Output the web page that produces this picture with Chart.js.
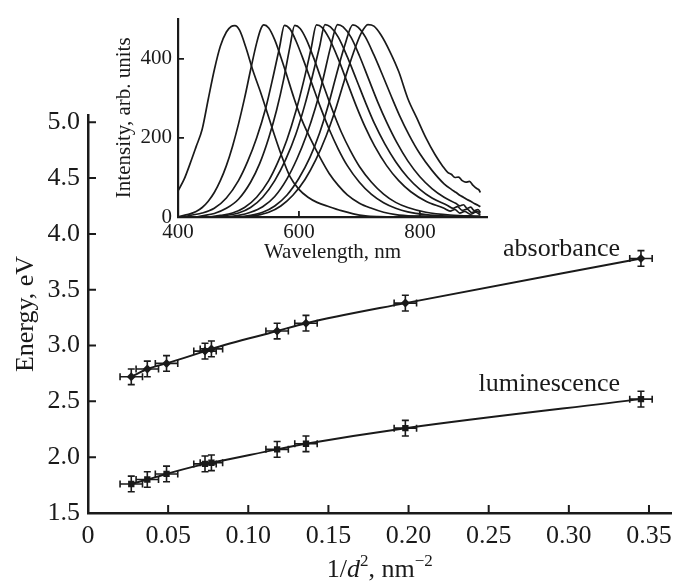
<!DOCTYPE html>
<html>
<head>
<meta charset="utf-8">
<script src="https://cdn.jsdelivr.net/npm/chart.js@4.4.1/dist/chart.umd.min.js"></script>
<style>
  html, body { margin: 0; padding: 0; background: #fff; }
  #wrap { position: relative; width: 680px; height: 583px; }
  #main { position: absolute; left: 0; top: 0; }
  #inset { position: absolute; left: 100px; top: 0; }
</style>
</head>
<body>
<div id="wrap">
  <canvas id="main" width="680" height="583"></canvas>
  <canvas id="inset" width="410" height="265"></canvas>
</div>
<script>
// size dependence of band energies
const invD2 = [0.027, 0.037, 0.049, 0.073, 0.077, 0.118, 0.136, 0.198, 0.345];
const absorbance = [2.72, 2.79, 2.84, 2.95, 2.97, 3.13, 3.20, 3.38, 3.78];
const luminescence = [1.76, 1.80, 1.85, 1.94, 1.95, 2.07, 2.12, 2.26, 2.52];
const invD2Err = [0.007, 0.007, 0.007, 0.007, 0.007, 0.007, 0.007, 0.007, 0.007];
const energyErr = [0.07, 0.07, 0.07, 0.07, 0.07, 0.07, 0.07, 0.07, 0.07];
const seriesNames = ['absorbance', 'luminescence'];
const xTicks = [0, 0.05, 0.10, 0.15, 0.20, 0.25, 0.30, 0.35];
const yTicks = [1.5, 2.0, 2.5, 3.0, 3.5, 4.0, 4.5, 5.0];

// luminescence spectra [wavelength nm, intensity]
const spec494 = [[400,66],[410,95],[420,135],[430,178],[440,222],[450,298],[460,372],[470,432],[480,468],[488,482],[494,484],[502,472],[512,430],[524,370],[536,318],[548,262],[560,205],[572,152],[585,103],[600,70],[615,50],[630,37],[650,26],[670,16],[690,8],[710,3],[730,1],[760,0],[800,2],[850,0],[900,1]];
const spec542 = [[400,0],[410,4],[420,8],[430,14],[440,24],[450,40],[460,62],[470,92],[480,130],[490,178],[500,235],[510,300],[520,372],[530,440],[537,476],[542,486],[550,478],[560,448],[570,405],[580,358],[592,300],[605,245],[620,195],[635,150],[650,110],[665,80],[680,56],[700,35],[720,22],[740,12],[760,6],[790,2],[830,0],[900,0]];
const spec576 = [[410,0],[420,4],[440,10],[460,22],[480,48],[500,92],[515,140],[530,200],[545,275],[558,360],[568,430],[576,485],[585,476],[595,446],[608,395],[622,335],[636,276],[650,222],[665,172],[680,130],[700,88],[720,57],[740,36],[760,22],[780,13],[810,6],[850,2],[900,0]];
const spec593 = [[430,0],[440,3],[460,9],[480,22],[500,45],[520,88],[535,135],[550,200],[563,270],[575,350],[585,430],[593,485],[602,477],[612,450],[625,400],[640,335],[655,272],[670,215],[685,168],[700,128],[720,88],[740,58],[760,37],[780,24],[810,12],[850,5],[900,2]];
const spec629 = [[450,0],[470,4],[490,10],[510,24],[530,50],[550,92],[565,138],[580,195],[595,268],[608,345],[620,425],[629,486],[638,480],[650,452],[665,400],[680,340],[695,280],[710,226],[725,180],[745,130],[765,92],[785,64],[810,40],[840,22],[850,15],[858,19],[866,10],[874,14],[884,7],[892,12],[900,5]];
const spec643 = [[460,0],[480,4],[500,10],[520,24],[540,50],[560,92],[578,145],[595,210],[610,285],[622,355],[634,430],[643,487],[652,481],[665,455],[680,405],[695,348],[710,290],[725,236],[742,185],[760,140],[780,100],[800,70],[820,48],[845,30],[855,22],[862,26],[870,17],[878,20],[886,11],[894,15],[900,9]];
const spec664 = [[480,0],[500,4],[520,12],[540,26],[560,52],[580,96],[597,148],[612,205],[627,275],[640,350],[652,428],[664,487],[673,481],[686,455],[700,408],[715,350],[730,292],[745,240],[762,188],[780,142],[800,102],[820,72],[840,50],[860,34],[866,28],[872,31],[878,22],[884,25],[890,16],[896,19],[900,12]];
const spec689 = [[500,0],[520,4],[540,12],[560,28],[580,55],[600,98],[618,150],[634,212],[648,280],[662,360],[676,435],[689,486],[698,480],[710,455],[724,410],[738,360],[752,308],[766,258],[782,208],[800,160],[820,118],[840,84],[852,70],[860,62],[866,55],[872,50],[878,44],[884,40],[890,34],[896,30],[900,26]];
const spec714 = [[510,0],[530,4],[550,12],[570,28],[590,55],[610,95],[628,145],[645,205],[660,270],[675,345],[690,415],[703,465],[714,487],[724,483],[736,460],[750,420],[765,368],[780,300],[795,250],[810,200],[825,158],[838,128],[846,113],[852,108],[858,100],[864,101],[870,92],[876,88],[882,90],[888,80],[894,72],[898,68],[900,62]];
const spectra = [spec494, spec542, spec576, spec593, spec629, spec643, spec664, spec689, spec714];
const waveTicks = [400, 600, 800];
const intensityTicks = [0, 200, 400];

const ink = '#1a1a1a';
const serif = "'Liberation Serif', 'Times New Roman', serif";
Chart.defaults.font.family = serif;
Chart.defaults.color = ink;

// ticks point into the plot, so they are drawn here instead of by the axis
const inwardTicks = {
  id: 'inwardTicks',
  afterDraw(chart, args, opts) {
    const { ctx, chartArea: a, scales: { x, y } } = chart;
    ctx.save();
    ctx.strokeStyle = ink;
    ctx.lineWidth = opts.width;
    ctx.beginPath();
    x.ticks.forEach(t => {
      const px = x.getPixelForValue(t.value);
      ctx.moveTo(px, a.bottom); ctx.lineTo(px, a.bottom - opts.len);
    });
    y.ticks.forEach(t => {
      const py = y.getPixelForValue(t.value);
      ctx.moveTo(a.left, py); ctx.lineTo(a.left + opts.len, py);
    });
    ctx.stroke();
    ctx.restore();
  }
};

const errorBars = {
  id: 'errorBars',
  afterDatasetsDraw(chart) {
    const { ctx, scales: { x, y } } = chart;
    const cap = 3.5;
    ctx.save();
    ctx.strokeStyle = ink;
    ctx.lineWidth = 1.6;
    [absorbance, luminescence].forEach(series => {
      series.forEach((e, i) => {
        const px = x.getPixelForValue(invD2[i]);
        const py = y.getPixelForValue(e);
        const x0 = x.getPixelForValue(invD2[i] - invD2Err[i]);
        const x1 = x.getPixelForValue(invD2[i] + invD2Err[i]);
        const y0 = y.getPixelForValue(e - energyErr[i]);
        const y1 = y.getPixelForValue(e + energyErr[i]);
        ctx.beginPath();
        ctx.moveTo(x0, py); ctx.lineTo(x1, py);
        ctx.moveTo(x0, py - cap); ctx.lineTo(x0, py + cap);
        ctx.moveTo(x1, py - cap); ctx.lineTo(x1, py + cap);
        ctx.moveTo(px, y0); ctx.lineTo(px, y1);
        ctx.moveTo(px - cap, y0); ctx.lineTo(px + cap, y0);
        ctx.moveTo(px - cap, y1); ctx.lineTo(px + cap, y1);
        ctx.stroke();
      });
    });
    ctx.restore();
  }
};

// series names next to the last point, and the x-axis title with italic d and superscripts
const mainText = {
  id: 'mainText',
  afterDraw(chart) {
    const { ctx, chartArea: a, scales: { x, y } } = chart;
    ctx.save();
    ctx.fillStyle = ink;
    ctx.font = `26px ${serif}`;
    ctx.textAlign = 'right';
    ctx.textBaseline = 'alphabetic';
    const last = invD2.length - 1;
    const lx = x.getPixelForValue(invD2[last]) - 21;
    ctx.fillText(seriesNames[0], lx, y.getPixelForValue(absorbance[last]) - 2);
    ctx.fillText(seriesNames[1], lx, y.getPixelForValue(luminescence[last]) - 8);

    const parts = [
      { t: '1/', f: `26px ${serif}`, dy: 0 },
      { t: 'd', f: `italic 26px ${serif}`, dy: 0 },
      { t: '2', f: `17px ${serif}`, dy: -11 },
      { t: ', nm', f: `26px ${serif}`, dy: 0 },
      { t: '\u22122', f: `17px ${serif}`, dy: -11 }
    ];
    let total = 0;
    parts.forEach(p => { ctx.font = p.f; p.w = ctx.measureText(p.t).width; total += p.w; });
    let cx = (a.left + a.right) / 2 - total / 2;
    const base = chart.height - 6;
    ctx.textAlign = 'left';
    parts.forEach(p => { ctx.font = p.f; ctx.fillText(p.t, cx, base + p.dy); cx += p.w; });
    ctx.restore();
  }
};

const axisBase = {
  border: { display: true, color: ink, width: 2.5 },
  grid: { display: false, drawTicks: false }
};

new Chart(document.getElementById('main'), {
  type: 'line',
  data: {
    datasets: [
      {
        label: seriesNames[0],
        data: invD2.map((v, i) => ({ x: v, y: absorbance[i] })),
        borderColor: ink, backgroundColor: ink, borderWidth: 2,
        pointStyle: 'rectRot', pointRadius: 4.5, pointBorderWidth: 0,
        cubicInterpolationMode: 'monotone'
      },
      {
        label: seriesNames[1],
        data: invD2.map((v, i) => ({ x: v, y: luminescence[i] })),
        borderColor: ink, backgroundColor: ink, borderWidth: 2,
        pointStyle: 'rect', pointRadius: 4.5, pointBorderWidth: 0,
        cubicInterpolationMode: 'monotone'
      }
    ]
  },
  options: {
    responsive: false,
    animation: false,
    layout: { padding: { top: 115, right: 7, left: 0, bottom: 0 } },
    plugins: {
      legend: { display: false },
      tooltip: { enabled: false },
      inwardTicks: { len: 8, width: 2 }
    },
    scales: {
      x: {
        ...axisBase,
        type: 'linear', min: 0, max: 0.364,
        afterFit: s => { s.height = 70; },
        afterBuildTicks: s => { s.ticks = xTicks.map(v => ({ value: v })); },
        ticks: {
          padding: 8, maxRotation: 0, autoSkip: false, color: ink,
          font: { size: 26 },
          callback: v => (v === 0 ? '0' : v.toFixed(2))
        }
      },
      y: {
        ...axisBase,
        type: 'linear', min: 1.5, max: 5.065,
        afterFit: s => { s.width = 88; },
        afterBuildTicks: s => { s.ticks = yTicks.map(v => ({ value: v })); },
        ticks: {
          padding: 8, color: ink, font: { size: 26 },
          callback: v => v.toFixed(1)
        },
        title: {
          display: true, text: 'Energy, eV', color: ink,
          font: { size: 26 }, padding: { top: 11, bottom: 0 }
        }
      }
    }
  },
  plugins: [inwardTicks, errorBars, mainText]
});

new Chart(document.getElementById('inset'), {
  type: 'line',
  data: {
    datasets: spectra.map(s => ({
      data: s.map(p => ({ x: p[0], y: p[1] })),
      borderColor: ink, borderWidth: 1.7, pointRadius: 0,
      cubicInterpolationMode: 'monotone'
    }))
  },
  options: {
    responsive: false,
    animation: false,
    layout: { padding: { top: 15, right: 23, left: 0, bottom: 0 } },
    plugins: {
      legend: { display: false },
      tooltip: { enabled: false },
      inwardTicks: { len: 6, width: 1.8 }
    },
    scales: {
      x: {
        ...axisBase,
        border: { display: true, color: ink, width: 2.2 },
        type: 'linear', min: 400, max: 911,
        afterFit: s => { s.height = 48; },
        afterBuildTicks: s => { s.ticks = waveTicks.map(v => ({ value: v })); },
        ticks: { padding: 3, maxRotation: 0, color: ink, font: { size: 21 } },
        title: {
          display: true, text: 'Wavelength, nm', color: ink,
          font: { size: 21 }, padding: { top: 0, bottom: 0 }
        }
      },
      y: {
        ...axisBase,
        border: { display: true, color: ink, width: 2.2 },
        type: 'linear', min: 0, max: 502,
        afterFit: s => { s.width = 78; },
        afterBuildTicks: s => { s.ticks = intensityTicks.map(v => ({ value: v })); },
        ticks: { padding: 6, color: ink, font: { size: 21 } },
        title: {
          display: true, text: 'Intensity, arb. units', color: ink,
          font: { size: 21 }, padding: { top: 12, bottom: 0 }
        }
      }
    }
  },
  plugins: [inwardTicks]
});
</script>
</body>
</html>
